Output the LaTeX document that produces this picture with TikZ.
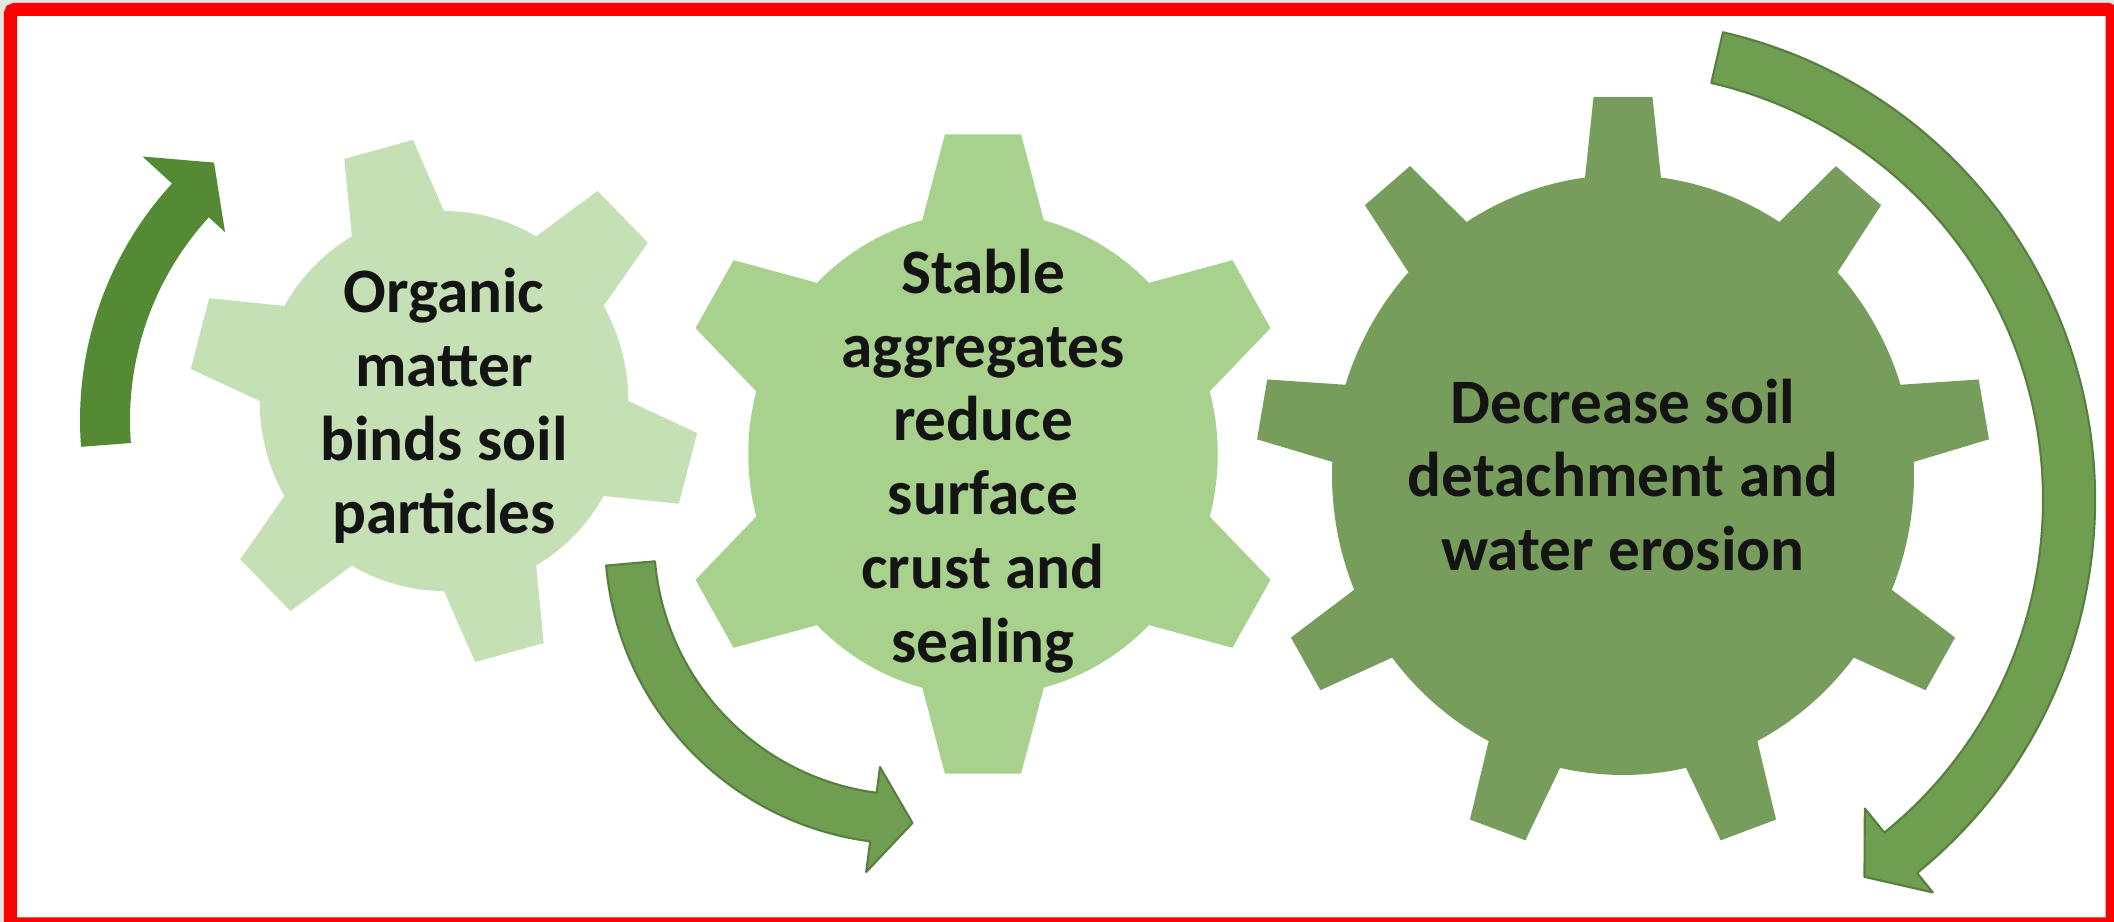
\documentclass[tikz,border=0pt]{standalone}
\usepackage{fontspec}
\setmainfont{Carlito}
\definecolor{gearone}{HTML}{C5E0B4}
\definecolor{geartwo}{HTML}{A9D18E}
\definecolor{gearthree}{HTML}{779D5C}
\definecolor{arrowdark}{HTML}{538A33}
\definecolor{arrowmid}{HTML}{6F9E50}
\definecolor{arrowline}{HTML}{587F40}
\definecolor{framebg}{HTML}{E8E5DE}
\begin{document}
\begin{tikzpicture}[x=0.01cm,y=0.01cm,
  geartext/.style={font=\fontsize{18}{21}\selectfont\bfseries,text=black!92,align=center},
  bigarrow/.style={fill=arrowmid,draw=arrowline,line width=0.6pt,line join=round}]
\useasboundingbox (0,0) rectangle (2114,922);
\fill[framebg] (0,0) rectangle (2114,922);
\draw[red,fill=white,line width=0.13cm,rounded corners=0.04cm] (10.5,-2) rectangle (2112,912.5);
% gears
\begin{scope}[shift={(444,521)},xscale=0.97]
\fill[gearone] (30:190) \foreach \a in {45,105,...,345} {
  -- ({\a-8}:263) -- ({\a+8}:263) -- ({\a+15}:190)
  arc[start angle={\a+15},end angle={\a+45},radius=190]} -- cycle;
\end{scope}
\begin{scope}[shift={(983,468)},xscale=0.97]
\fill[geartwo] (15:242) \foreach \a in {30,90,...,330} {
  -- ({\a-7}:322) -- ({\a+7}:322) -- ({\a+15}:242)
  arc[start angle={\a+15},end angle={\a+45},radius=242]} -- cycle;
\end{scope}
\begin{scope}[shift={(1623,447)},xscale=0.97]
\fill[gearthree] (2.5:300) \foreach \a in {10,50,...,330} {
  -- ({\a-4.6}:379) -- ({\a+4.6}:379) -- ({\a+7.5}:300)
  arc[start angle={\a+7.5},end angle={\a+32.5},radius=300]} -- cycle;
\end{scope}
% arrows
\begin{scope}[shift={(430,502)}]
\fill[arrowdark] (184.4:350) arc[start angle=184.4,end angle=137.5,radius=350]
  -- (137.5:390) -- (130:336) -- (137.5:278) -- (137.5:300)
  arc[start angle=137.5,end angle=184.4,radius=300] -- cycle;
\end{scope}
\begin{scope}[shift={(910,383)}]
\filldraw[bigarrow] (185:305) arc[start angle=185,end angle=262.5,radius=305]
  -- (262.5:336) -- (270.5:284) -- (262.5:230) -- (262.5:256)
  arc[start angle=262.5,end angle=185,radius=256] -- cycle;
\end{scope}
\begin{scope}[shift={(1615,422)}]
\filldraw[bigarrow] (77:480) arc[start angle=77,end angle=-51,radius=480]
  -- (-51:505) -- (-56.5:452) -- (-51:397) -- (-51:428)
  arc[start angle=-51,end angle=77,radius=428] -- cycle;
\end{scope}
\node[geartext] (organic) at (444,516) {Organic\\matter\\binds soil\\particles};
\node[geartext] (stable) at (983,461) {Stable\\aggregates\\reduce\\surface\\crust and\\sealing};
\node[geartext] (erosion) at (1623,447) {Decrease soil\\detachment and\\water erosion};
\end{tikzpicture}
\end{document}
